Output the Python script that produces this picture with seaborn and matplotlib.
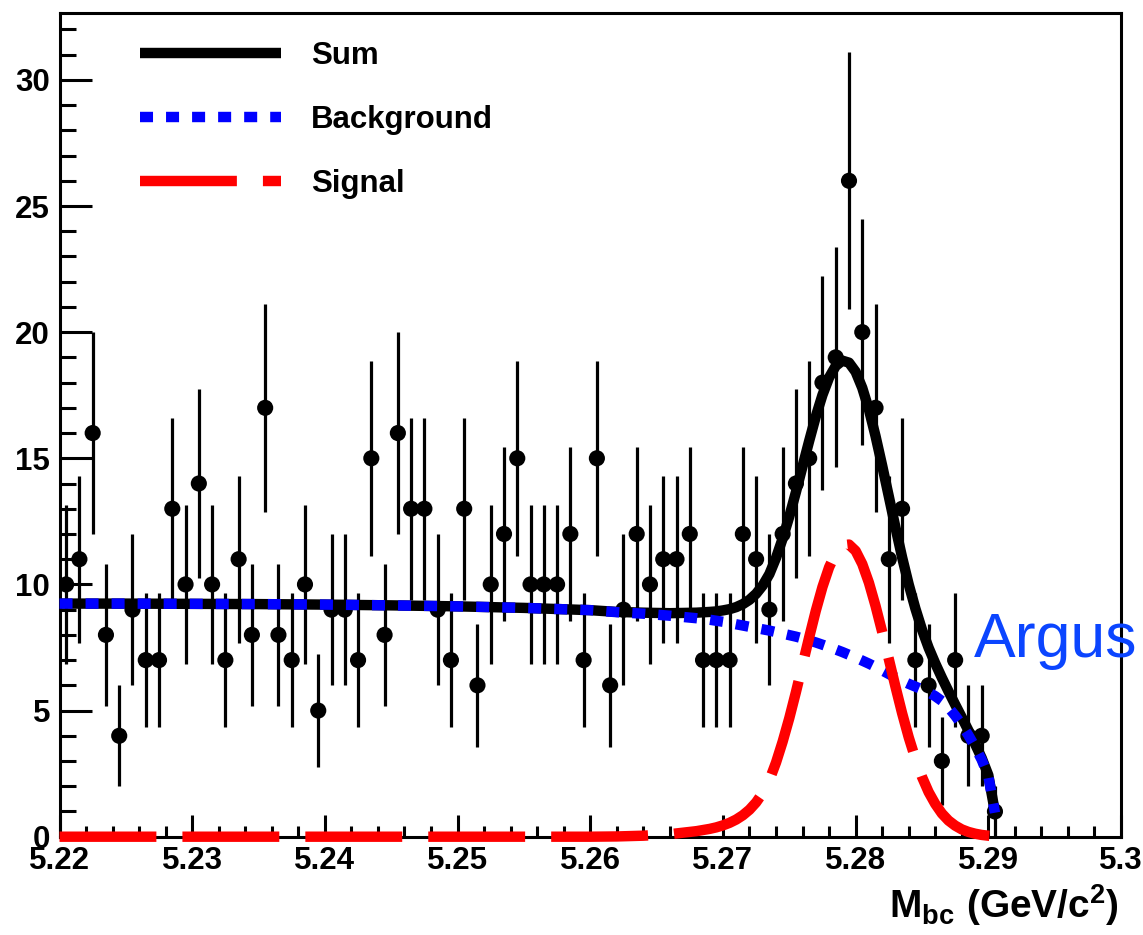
import numpy as np
import pandas as pd
import matplotlib
matplotlib.use("Agg")
import matplotlib.pyplot as plt
from matplotlib.ticker import FixedLocator, MultipleLocator
import seaborn as sns

# ---------------- data ----------------
bin_centers = [5.2205, 5.2215, 5.2225, 5.2235, 5.2245, 5.2255, 5.2265, 5.2275, 5.2285, 5.2295,
               5.2305, 5.2315, 5.2325, 5.2335, 5.2345, 5.2355, 5.2365, 5.2375, 5.2385, 5.2395,
               5.2405, 5.2415, 5.2425, 5.2435, 5.2445, 5.2455, 5.2465, 5.2475, 5.2485, 5.2495,
               5.2505, 5.2515, 5.2525, 5.2535, 5.2545, 5.2555, 5.2565, 5.2575, 5.2585, 5.2595,
               5.2605, 5.2615, 5.2625, 5.2635, 5.2645, 5.2655, 5.2665, 5.2675, 5.2685, 5.2695,
               5.2705, 5.2715, 5.2725, 5.2735, 5.2745, 5.2755, 5.2765, 5.2775, 5.2785, 5.2795,
               5.2805, 5.2815, 5.2825, 5.2835, 5.2845, 5.2855, 5.2865, 5.2875, 5.2885, 5.2895,
               5.2905]
counts = [10, 11, 16, 8, 4, 9, 7, 7, 13, 10,
          14, 10, 7, 11, 8, 17, 8, 7, 10, 5,
          9, 9, 7, 15, 8, 16, 13, 13, 9, 7,
          13, 6, 10, 12, 15, 10, 10, 10, 12, 7,
          15, 6, 9, 12, 10, 11, 11, 12, 7, 7,
          7, 12, 11, 9, 12, 14, 15, 18, 19, 26,
          20, 17, 11, 13, 7, 6, 3, 7, 4, 4,
          1]

m_curve = [5.220, 5.225, 5.230, 5.235, 5.240, 5.245, 5.250, 5.255, 5.260,
           5.262, 5.264, 5.266, 5.268,
           5.2690, 5.2695, 5.2700, 5.2705, 5.2710, 5.2715, 5.2720, 5.2725, 5.2730, 5.2735,
           5.2740, 5.2745, 5.2750, 5.2755, 5.2760, 5.2765, 5.2770, 5.2775, 5.2780, 5.2785,
           5.2790, 5.2795, 5.2800, 5.2805, 5.2810, 5.2815, 5.2820, 5.2825, 5.2830, 5.2835,
           5.2840, 5.2845, 5.2850, 5.2855, 5.2860, 5.2865, 5.2870, 5.2875, 5.2880, 5.2885,
           5.2890, 5.2895, 5.2900, 5.2905]
background = [9.24, 9.24, 9.23, 9.22, 9.20, 9.17, 9.13, 9.07, 8.98,
              8.90, 8.84, 8.76, 8.66,
              8.60, 8.56, 8.52, 8.47, 8.42, 8.37, 8.32, 8.27, 8.22, 8.17,
              8.11, 8.05, 7.99, 7.93, 7.86, 7.78, 7.70, 7.61, 7.52, 7.42,
              7.32, 7.21, 7.10, 6.98, 6.86, 6.73, 6.59, 6.45, 6.31, 6.18,
              6.06, 5.95, 5.84, 5.72, 5.57, 5.38, 5.12, 4.80, 4.44, 4.02,
              3.56, 3.05, 2.40, 0.95]
signal = [0.00, 0.00, 0.00, 0.00, 0.00, 0.00, 0.00, 0.00, 0.00,
          0.01, 0.04, 0.10, 0.22,
          0.31, 0.37, 0.45, 0.55, 0.68, 0.85, 1.07, 1.36, 1.74, 2.24,
          2.94, 3.77, 4.70, 5.73, 6.82, 7.91, 8.96, 9.90, 10.68, 11.24,
          11.55, 11.58, 11.33, 10.81, 10.07, 9.15, 8.12, 7.04, 5.95, 4.90,
          3.94, 3.10, 2.37, 1.77, 1.30, 0.92, 0.64, 0.44, 0.29, 0.19,
          0.12, 0.07, 0.04, 0.02]

legend_labels = ["Sum", "Background", "Signal"]
xtick_values = [5.22, 5.23, 5.24, 5.25, 5.26, 5.27, 5.28, 5.29, 5.30]
xtick_labels = ["5.22", "5.23", "5.24", "5.25", "5.26", "5.27", "5.28", "5.29", "5.3"]
ytick_values = [0, 5, 10, 15, 20, 25, 30]

# ---------------- style ----------------
sns.set_theme(style="white")
plt.rcParams["font.family"] = ["Liberation Sans", "DejaVu Sans"]
plt.rcParams["mathtext.fontset"] = "custom"
plt.rcParams["mathtext.rm"] = "Liberation Sans:bold"
plt.rcParams["mathtext.bf"] = "Liberation Sans:bold"
plt.rcParams["mathtext.it"] = "Liberation Sans:bold"
plt.rcParams["lines.solid_capstyle"] = "butt"
plt.rcParams["lines.dash_capstyle"] = "butt"
for key in ("text.color", "axes.labelcolor", "xtick.color", "ytick.color",
            "axes.edgecolor", "legend.labelcolor"):
    plt.rcParams[key] = "black"

fig = plt.figure(figsize=(11.43, 9.35), dpi=100)
ax = fig.add_axes([0.05206, 0.10513, 0.92870, 0.88096])

# data points with Poisson error bars
err = np.sqrt(np.array(counts, dtype=float))
ax.errorbar(bin_centers, counts, yerr=err, fmt="none", ecolor="black",
            elinewidth=2.3, capsize=0, zorder=2)
sns.scatterplot(x=bin_centers, y=counts, color="black", s=135, edgecolor="none",
                ax=ax, zorder=3, legend=False)

# fit curves
df = pd.DataFrame({"m": m_curve, "bg": background, "sig": signal})
df["sum"] = df["bg"] + df["sig"]

LW = 7.5
sns.lineplot(data=df, x="m", y="sum", color="black", lw=LW, ax=ax,
             errorbar=None, sort=False)
l_sum = ax.lines[-1]
sns.lineplot(data=df, x="m", y="bg", color="#0000ff", lw=LW, ax=ax,
             errorbar=None, sort=False)
l_bg = ax.lines[-1]
l_bg.set_dashes((1.25, 1.25))
sns.lineplot(data=df, x="m", y="sig", color="#ff0000", lw=LW, ax=ax,
             errorbar=None, sort=False)
l_sig = ax.lines[-1]
l_sig.set_dashes((9.3, 2.5))
for z, ln in zip((4, 5, 6), (l_sum, l_bg, l_sig)):
    ln.set_zorder(z)
    ln.set_clip_on(False)

# axes
ax.set_xlim(5.22, 5.30)
ax.set_ylim(0, 32.65)
ax.xaxis.set_major_locator(FixedLocator(xtick_values))
ax.set_xticklabels(xtick_labels)
ax.xaxis.set_minor_locator(MultipleLocator(0.002))
ax.yaxis.set_major_locator(FixedLocator(ytick_values))
ax.yaxis.set_minor_locator(MultipleLocator(1))
ax.tick_params(axis="x", which="major", direction="in", length=16, width=2.2,
               labelsize=22.5, pad=6.5, colors="black", bottom=True, top=False)
ax.tick_params(axis="x", which="minor", direction="in", length=8, width=2.2,
               colors="black", bottom=True, top=False)
ax.tick_params(axis="y", which="major", direction="in", length=23, width=2.2,
               labelsize=22.5, pad=6.8, colors="black", left=True, right=False)
ax.tick_params(axis="y", which="minor", direction="in", length=11.5, width=2.2,
               colors="black", left=True, right=False)
for lbl in ax.get_xticklabels() + ax.get_yticklabels():
    lbl.set_fontweight("bold")
    lbl.set_color("black")
for sp in ax.spines.values():
    sp.set_visible(True)
    sp.set_linewidth(2.2)
    sp.set_color("black")
ax.set_xlabel("")
ax.set_ylabel("")
ax.grid(False)

# legend
leg = ax.legend(handles=[l_sum, l_bg, l_sig], labels=legend_labels, loc="upper left",
                bbox_to_anchor=(0.0758, 0.966), frameon=False,
                prop={"weight": "bold", "size": 22.5}, handlelength=4.5,
                handletextpad=0.98, labelspacing=1.08, borderpad=0, borderaxespad=0)
for t in leg.get_texts():
    t.set_color("black")

# annotations
ax.text(5.2889, 7.14, "Argus", color="#0B45FF", fontsize=45, ha="left",
        va="baseline", clip_on=False, zorder=7)
fig.text(0.979, 0.018, r"$\mathbf{M_{bc}\ (GeV/c^{2})}$", fontsize=28,
         ha="right", va="baseline", color="black")

fig.savefig("out.png", dpi=100)
